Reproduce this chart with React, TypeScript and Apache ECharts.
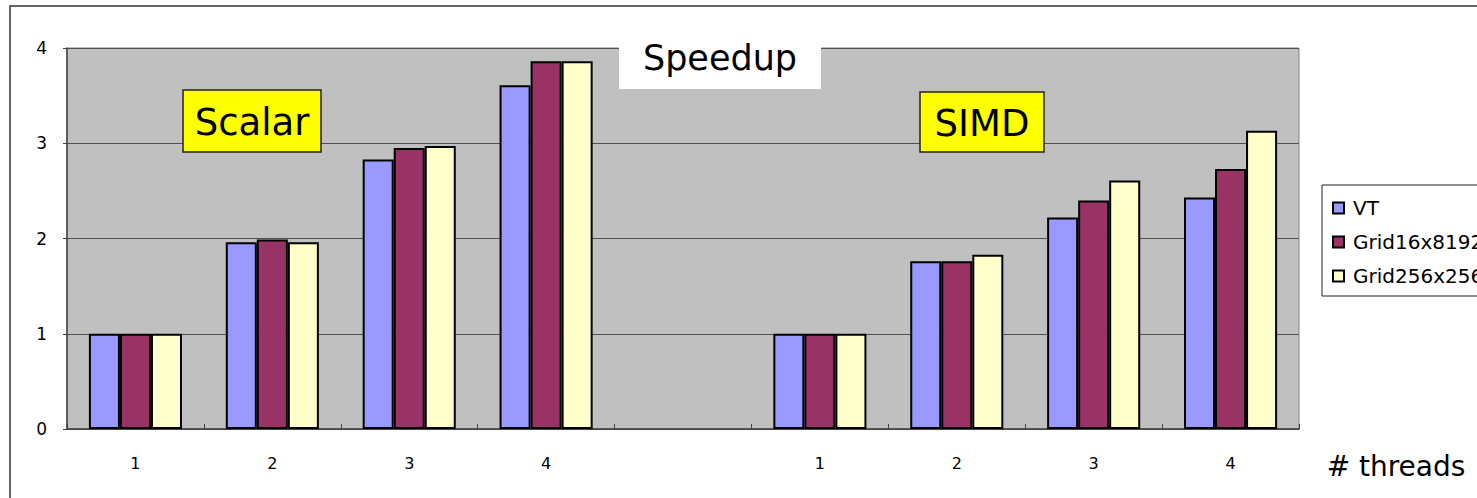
import React, { useEffect, useRef } from "react";
import * as echarts from "echarts";

const categories = ["1", "2", "3", "4", "", "1", "2", "3", "4"];
const seriesNames = ["VT", "Grid16x8192", "Grid256x256"];
const vtValues: (number | string)[] = [1.0, 1.96, 2.83, 3.61, "-", 1.0, 1.76, 2.22, 2.43];
const grid16Values: (number | string)[] = [1.0, 1.99, 2.95, 3.86, "-", 1.0, 1.76, 2.4, 2.73];
const grid256Values: (number | string)[] = [1.0, 1.96, 2.97, 3.86, "-", 1.0, 1.83, 2.61, 3.13];
const yTicks = [0, 1, 2, 3, 4];
const colors = ["#9999FF", "#993366", "#FFFFCC"];

export default function App() {
  const ref = useRef<HTMLDivElement>(null);
  useEffect(() => {
    if (!ref.current) return;
    const chart = echarts.init(ref.current, null, { renderer: "svg" });
    const data = [vtValues, grid16Values, grid256Values];
    const font = "DejaVu Sans";
    chart.setOption({
      animation: false,
      backgroundColor: "#FFFFFF",
      textStyle: { fontFamily: font },
      grid: {
        left: 67,
        top: 48,
        width: 1232,
        height: 381,
        show: true,
        backgroundColor: "#C0C0C0",
        borderColor: "#808080",
        borderWidth: 1,
      },
      legend: {
        orient: "vertical",
        left: 1322,
        top: 185,
        data: seriesNames,
        icon: "rect",
        itemWidth: 11,
        itemHeight: 11,
        itemGap: 14,
        padding: [13, 10, 10, 10],
        borderColor: "#222",
        borderWidth: 1,
        backgroundColor: "#FFFFFF",
        textStyle: { fontFamily: font, fontSize: 20, color: "#000", padding: [0, 0, 0, 4] },
      },
      xAxis: {
        type: "category",
        data: categories,
        axisLine: { show: true, lineStyle: { color: "#404040", width: 1.5 } },
        axisTick: { show: true, inside: true, length: 5, lineStyle: { color: "#404040" } },
        axisLabel: { margin: 26, fontSize: 16, color: "#000", fontFamily: font },
        splitLine: { show: false },
      },
      yAxis: {
        type: "value",
        min: yTicks[0],
        max: yTicks[yTicks.length - 1],
        interval: 1,
        axisLine: { show: true, lineStyle: { color: "#404040", width: 1.5 } },
        axisTick: { show: true, length: 4, lineStyle: { color: "#404040" } },
        axisLabel: { margin: 20, fontSize: 17, color: "#000", fontFamily: font, padding: [6, 0, 0, 0] },
        splitLine: { show: true, lineStyle: { color: "#505050", width: 1 } },
      },
      series: seriesNames.map((name, i) => ({
        name,
        type: "bar",
        data: data[i],
        barGap: "0%",
        barCategoryGap: "32%",
        itemStyle: { color: colors[i], borderColor: "#000", borderWidth: 2 },
      })),
      graphic: [
        {
          type: "rect",
          z: 100,
          shape: { x: 10, y: 6, width: 2000, height: 1000 },
          style: { fill: "none", stroke: "#333", lineWidth: 1.5 },
        },
        {
          type: "rect",
          z: 100,
          shape: { x: 619, y: 31, width: 202, height: 58 },
          style: { fill: "#FFFFFF" },
        },
        {
          type: "text",
          z: 101,
          x: 720,
          y: 58,
          style: { text: "Speedup", fontSize: 35, fontFamily: font, fill: "#000", align: "center", verticalAlign: "middle" },
        },
        {
          type: "rect",
          z: 100,
          shape: { x: 183, y: 90, width: 138, height: 62 },
          style: { fill: "#FFFF00", stroke: "#222", lineWidth: 1.5 },
        },
        {
          type: "text",
          z: 101,
          x: 252,
          y: 122,
          style: { text: "Scalar", fontSize: 37, fontFamily: font, fill: "#000", align: "center", verticalAlign: "middle" },
        },
        {
          type: "rect",
          z: 100,
          shape: { x: 920, y: 92, width: 124, height: 60 },
          style: { fill: "#FFFF00", stroke: "#222", lineWidth: 1.5 },
        },
        {
          type: "text",
          z: 101,
          x: 982,
          y: 123,
          style: { text: "SIMD", fontSize: 37, fontFamily: font, fill: "#000", align: "center", verticalAlign: "middle" },
        },
        {
          type: "text",
          z: 101,
          x: 1396,
          y: 466,
          style: { text: "# threads", fontSize: 28, fontFamily: font, fill: "#000", align: "center", verticalAlign: "middle" },
        },
      ],
    });
    return () => chart.dispose();
  }, []);
  return (
    <div
      ref={ref}
      style={{ position: "absolute", left: 0, top: 0, width: 1477, height: 498 }}
    />
  );
}
